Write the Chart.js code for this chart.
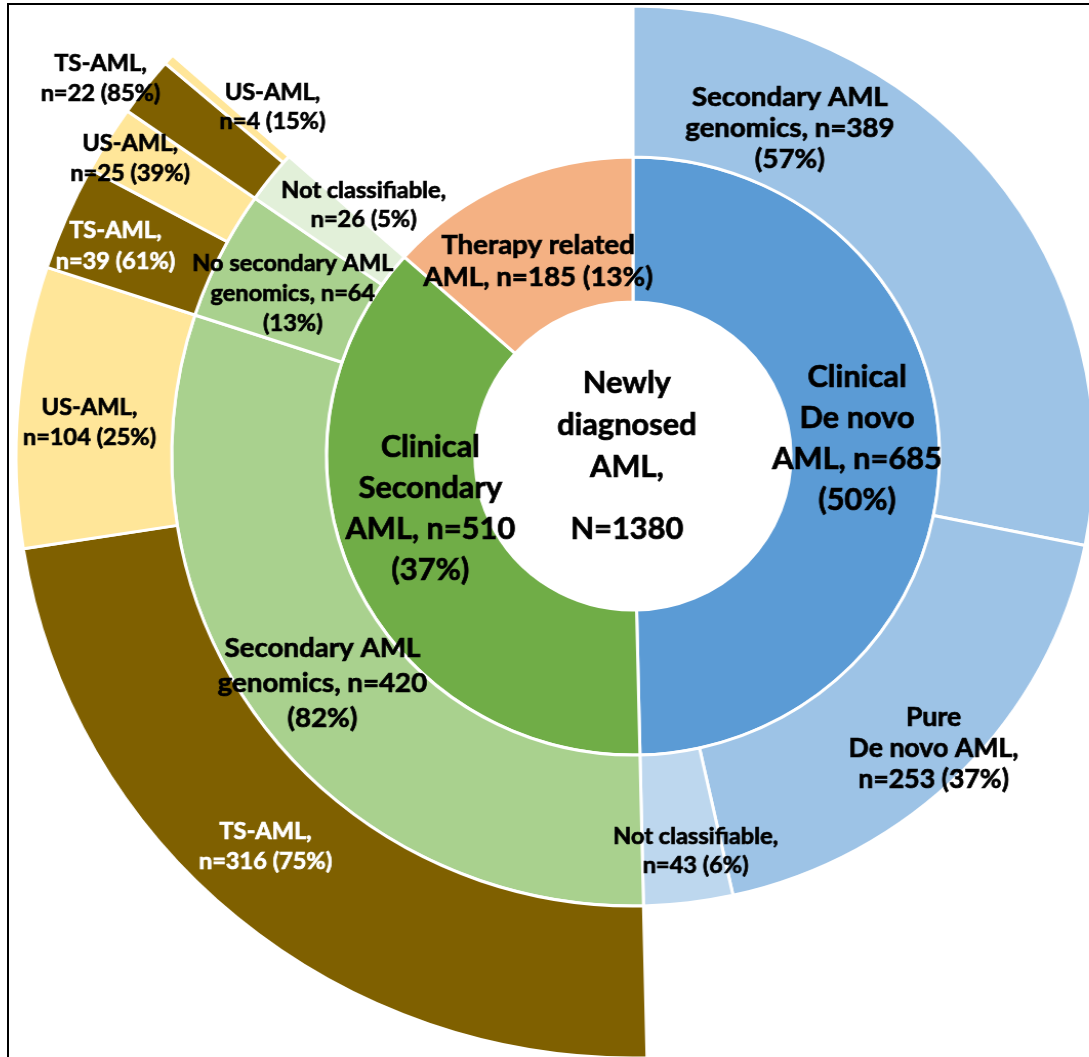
<!DOCTYPE html>
<html>
<head>
<meta charset="utf-8">
<title>Newly diagnosed AML sunburst</title>
<script src="https://cdn.jsdelivr.net/npm/chart.js@4.4.1/dist/chart.umd.min.js"></script>
<style>
  html, body { margin: 0; padding: 0; background: #fff; }
  #wrap { position: relative; width: 1089px; height: 1057px; overflow: hidden; background: #fff; }
  /* the original figure is a little wider than tall */
  #sunburst { position: absolute; left: -17px; top: -194px;
              transform-origin: 650px 650px; transform: scaleX(1.025); }
  #frame { position: absolute; left: 7px; top: 3px; width: 2000px; height: 2000px;
           border-left: 2px solid #000; border-top: 2px solid #000; pointer-events: none; }
</style>
</head>
<body>
<div id="wrap">
  <canvas id="sunburst" width="1300" height="1300"></canvas>
  <div id="frame"></div>
</div>
<script>
// inner ring: clinical groups
const ring1Names = ['Clinical De novo AML', 'Clinical Secondary AML', 'Therapy related AML'];
const ring1Values = [685, 510, 185];
const ring1Text = [
    ['Clinical', 'De novo', 'AML, n=685', '(50%)'],
    ['Clinical', 'Secondary', 'AML, n=510', '(37%)'],
    ['Therapy related', 'AML, n=185 (13%)']
];

// middle ring: genomic groups (therapy related has none)
const ring2Names = ['Secondary AML genomics', 'Pure De novo AML', 'Not classifiable',
    'Secondary AML genomics', 'No secondary AML genomics', 'Not classifiable'];
const ring2Values = [389, 253, 43, 420, 64, 26];
const ring2Text = [
    ['Secondary AML', 'genomics, n=389', '(57%)'],
    ['Pure', 'De novo AML,', 'n=253 (37%)'],
    ['Not classifiable,', 'n=43 (6%)'],
    ['Secondary AML', 'genomics, n=420', '(82%)'],
    ['No secondary AML', 'genomics, n=64', '(13%)'],
    ['Not classifiable,', 'n=26 (5%)']
];

// outer ring: TS / US split of the clinical secondary group
const ring3Names = ['TS-AML', 'US-AML', 'TS-AML', 'US-AML', 'TS-AML', 'US-AML'];
const ring3Values = [316, 104, 39, 25, 22, 4];
const ring3Text = [
    ['TS-AML,', 'n=316 (75%)'],
    ['US-AML,', 'n=104 (25%)'],
    ['TS-AML,', 'n=39 (61%)'],
    ['US-AML,', 'n=25 (39%)'],
    ['TS-AML,', 'n=22 (85%)'],
    ['US-AML,', 'n=4 (15%)']
];

const centerText = ['Newly', 'diagnosed', 'AML,', '', 'N=1380'];

// empty gaps so each ring lines up with its parent
const ring2Data = ring2Values.concat([ring1Values[2]]);
const ring3Data = [ring1Values[0]].concat(ring3Values, [ring1Values[2]]);
const ring2Lines = ring2Text.concat([null]);
const ring3Lines = [null].concat(ring3Text, [null]);

const NONE = 'rgba(0,0,0,0)';
const ring1Colors = ['#5B9BD5', '#70AD47', '#F4B183'];
const ring2Colors = ['#9DC3E6', '#9DC3E6', '#BDD7EE', '#A9D18E', '#A9D18E', '#E2F0D9', NONE];
const ring3Colors = [NONE, '#7F6000', '#FFE699', '#7F6000', '#FFE699', '#7F6000', '#FFE699', NONE];

// label styling, per ring (dataset order: outer, middle, inner)
const FONT = 'Lato, "Open Sans", sans-serif';
const labelStyle = [
    { colors: [null, '#fff', '#000', '#fff', '#000', '#000', '#000', null],
      sizes: [null, 23, 23, 23, 23, 23, 23, null],
      lines: [null, 30, 30, 31, 30, 30, 29, null],
      shift: [null, [-21, -13], [-6, 10], [-22, -1], [-43, -21], [-104, -55], [44, -2], null] },
    { colors: ['#000', '#000', '#000', '#000', '#000', '#000', null],
      sizes: [27, 26, 23, 27, 23, 23, null],
      lines: [31, 31, 29, 35, 30, 29, null],
      shift: [[-137, -91], [26, 30], [16, 23], [-2, 4], [3, 5], [31, -19], null] },
    { colors: ['#000', '#000', '#000'],
      sizes: [30, 30, 27],
      lines: [41, 41, 32],
      shift: [[-8, -15], [8, -42], [0, 12]] }
];
const allLines = [ring3Lines, ring2Lines, ring1Text];

function boldText(ctx, t, x, y, color) {
    ctx.fillStyle = color;
    ctx.strokeStyle = color;
    ctx.lineWidth = 0.7;
    ctx.fillText(t, x, y);
    ctx.strokeText(t, x, y);
}

const sunburstLabels = {
    id: 'sunburstLabels',
    afterDatasetsDraw(chart) {
        const ctx = chart.ctx;
        ctx.save();
        ctx.textAlign = 'center';
        ctx.textBaseline = 'middle';
        allLines.forEach(function (ringLines, d) {
            const meta = chart.getDatasetMeta(d);
            const st = labelStyle[d];
            meta.data.forEach(function (arc, i) {
                const lines = ringLines[i];
                if (!lines) return;
                const p = arc.getCenterPoint();
                const lh = st.lines[i];
                const x = p.x + st.shift[i][0];
                const y = p.y + st.shift[i][1] - (lines.length - 1) * lh / 2;
                ctx.font = 'bold ' + st.sizes[i] + 'px ' + FONT;
                lines.forEach(function (t, k) {
                    boldText(ctx, t, x, y + k * lh, st.colors[i]);
                });
            });
        });
        // centre of the sunburst
        const arc0 = chart.getDatasetMeta(2).data[0];
        ctx.font = 'bold 30px ' + FONT;
        let y = arc0.y - 73;
        centerText.forEach(function (t) {
            if (t === '') { y += 20; return; }
            boldText(ctx, t, arc0.x - 6, y, '#000');
            y += 42;
        });
        ctx.restore();
    }
};

new Chart(document.getElementById('sunburst'), {
    type: 'doughnut',
    data: {
        labels: ring3Names,
        datasets: [
            { label: 'Subtype', data: ring3Data, backgroundColor: ring3Colors,
              borderColor: '#fff', borderWidth: ring3Colors.map(c => c === NONE ? 0 : 3), weight: 152 },
            { label: 'Genomics', data: ring2Data, backgroundColor: ring2Colors,
              borderColor: '#fff', borderWidth: ring2Colors.map(c => c === NONE ? 0 : 3), weight: 151 },
            { label: 'Clinical', data: ring1Values, backgroundColor: ring1Colors,
              borderColor: '#fff', borderWidth: 3, weight: 145 }
        ]
    },
    options: {
        responsive: false,
        animation: false,
        radius: 602,
        cutout: '25.6%',
        layout: { padding: 0 },
        plugins: {
            legend: { display: false },
            tooltip: { enabled: false }
        }
    },
    plugins: [sunburstLabels]
});
</script>
</body>
</html>
